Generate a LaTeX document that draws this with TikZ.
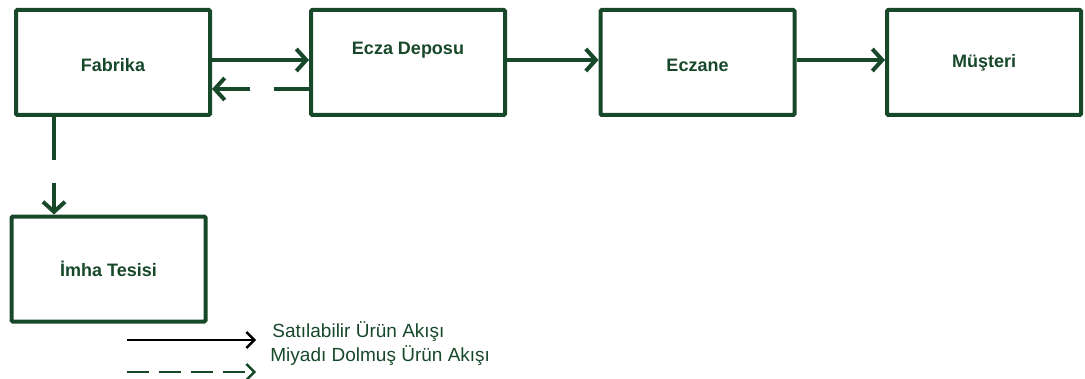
\documentclass[tikz,border=0pt]{standalone}
\usepackage{fontspec}
\setmainfont{Liberation Sans}
\usetikzlibrary{arrows.meta,positioning}
\definecolor{flowgreen}{HTML}{17482A}

\tikzset{
  kutu/.style={draw=flowgreen, line width=2pt, minimum width=97pt, minimum height=52.5pt,
    inner sep=0pt, rounded corners=0.6pt},
  kutuyazi/.style={text=flowgreen, font={\bfseries\fontsize{9}{9}\selectfont}},
  akis/.style={draw=flowgreen, line width=2pt, -{Straight Barb[length=5pt,width=11pt,line width=2pt]}},
  miyadi/.style={akis, dash pattern=on 17.5pt off 12pt},
  lejok/.style={line width=1.2pt, -{Straight Barb[length=4pt,width=8pt,line width=1.2pt]}},
  aciklama/.style={text=flowgreen, anchor=west, inner sep=0pt, font={\fontsize{9.5}{10}\selectfont}},
}

\begin{document}
\begin{tikzpicture}[x=0.5pt, y=-0.5pt]

\useasboundingbox (0,0) rectangle (1085,379);

% kutular
\node [kutu] (fabrika) at (113,62.5) {};
\node [kutu] (deposu)  at (408,62.5) {};
\node [kutu] (eczane)  at (697.5,62.5) {};
\node [kutu] (musteri) at (984,62.5) {};
\node [kutu] (imha)    at (108.5,269) {};

\node [kutuyazi] (fabrika-t) at (113,65) {Fabrika};
\node [kutuyazi] (deposu-t)  at (408,50) {Ecza Deposu};
\node [kutuyazi] (eczane-t)  at (697.5,65) {Eczane};
\node [kutuyazi] (musteri-t) at (984,63) {Müşteri};
\node [kutuyazi] (imha-t)    at (108.5,269) {İmha Tesisi};

% akislar
\draw [akis] ([yshift=1.25pt]fabrika.east) -- ([yshift=1.25pt]deposu.west);
\draw [miyadi] ([yshift=-13.25pt]deposu.west) -- ([yshift=-13.25pt]fabrika.east);
\draw [akis] ([yshift=1.25pt]deposu.east) -- ([yshift=1.25pt]eczane.west);
\draw [akis] ([yshift=1.25pt]eczane.east) -- ([yshift=1.25pt]musteri.west);
\draw [miyadi, dash pattern=on 21.5pt off 11.5pt]
  ([xshift=-29.5pt]fabrika.south) -- ([xshift=-29.5pt]fabrika.south |- imha.north);

% lejant
\coordinate (lej1-a) at (127,340);
\coordinate (lej1-b) at (256,340);
\coordinate (lej2-a) at (127,372);
\coordinate (lej2-b) at (256,372);

\draw [lejok] (lej1-a) -- (lej1-b);
\draw [lejok, flowgreen, dash pattern=on 11pt off 5pt] (lej2-a) -- (lej2-b);

\node [aciklama] (satilabilir) at (272,332) {Satılabilir Ürün Akışı};
\node [aciklama] (miyadi-dolmus) at (270,356) {Miyadı Dolmuş Ürün Akışı};

\end{tikzpicture}
\end{document}
